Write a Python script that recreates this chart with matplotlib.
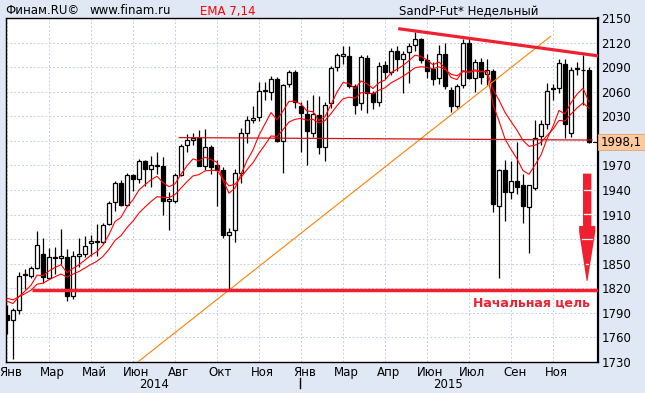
import numpy as np
import pandas as pd
import matplotlib
matplotlib.use("Agg")
import matplotlib.pyplot as plt
import matplotlib.transforms as mtransforms
from matplotlib.patches import Rectangle, Polygon

# ---------------- data (weekly candles, SandP-Fut*) ----------------
opens = [1787, 1781, 1794, 1836, 1835, 1845, 1862, 1833, 1857, 1857,
         1858, 1810, 1859, 1862, 1875, 1877, 1876, 1898, 1925, 1949,
         1922, 1958, 1954, 1976, 1966, 1969, 1969, 1926, 1926, 1958,
         1995, 2001, 2004, 1969, 1993, 1971, 1965, 1885, 1891, 1961,
         2010, 2026, 2029, 2061, 2060, 2076, 2000, 2070, 2084, 2043,
         2033, 2010, 2032, 1993, 2046, 2090, 2104, 2104, 2067, 2046,
         2101, 2058, 2047, 2093, 2084, 2110, 2100, 2108, 2117, 2124,
         2099, 2088, 2077, 2106, 2062, 2042, 2068, 2119, 2077, 2096,
         2082, 2085, 1921, 1964, 1937, 1951, 1946, 1919, 1943, 2006,
         2020, 2063, 2065, 2094, 2010, 2088, 2087, 2086]
highs = [1799, 1796, 1840, 1844, 1847, 1890, 1882, 1869, 1871, 1892,
         1868, 1866, 1882, 1884, 1885, 1898, 1900, 1926, 1951, 1952,
         1961, 1960, 1978, 1977, 1981, 1986, 1980, 1937, 1961, 1996,
         2008, 2010, 2013, 2014, 1995, 1977, 1968, 1893, 1966, 2016,
         2030, 2042, 2072, 2072, 2079, 2078, 2069, 2087, 2087, 2047,
         2050, 2056, 2055, 2048, 2092, 2107, 2116, 2116, 2070, 2105,
         2105, 2061, 2096, 2098, 2113, 2116, 2110, 2120, 2133, 2126,
         2106, 2096, 2117, 2120, 2066, 2069, 2124, 2124, 2100, 2101,
         2100, 2088, 1966, 1977, 1975, 1998, 1960, 1946, 2026, 2025,
         2071, 2070, 2100, 2100, 2090, 2096, 2105, 2090]
lows = [1764, 1734, 1788, 1819, 1833, 1844, 1827, 1831, 1838, 1850,
        1805, 1807, 1846, 1858, 1860, 1860, 1874, 1897, 1914, 1921,
        1921, 1939, 1948, 1945, 1944, 1959, 1910, 1891, 1924, 1957,
        1986, 1995, 1969, 1965, 1959, 1921, 1882, 1819, 1876, 1949,
        1997, 2022, 2024, 2050, 2050, 1998, 1961, 2066, 2040, 1986,
        1971, 2005, 1984, 1975, 2040, 2085, 2094, 2064, 2033, 2038,
        2034, 2039, 2043, 2075, 2080, 2085, 2058, 2071, 2110, 2095,
        2077, 2068, 2070, 2063, 2035, 2040, 2064, 2075, 2060, 2070,
        2068, 1913, 1832, 1902, 1929, 1935, 1900, 1863, 1940, 1995,
        2015, 2050, 2058, 2003, 2005, 2080, 2044, 1997]
closes = [1781, 1793, 1835, 1837, 1845, 1873, 1834, 1858, 1858, 1859,
          1810, 1860, 1862, 1872, 1878, 1878, 1897, 1924, 1949, 1922,
          1958, 1954, 1976, 1966, 1970, 1970, 1926, 1929, 1958, 1994,
          2001, 2003, 1969, 1993, 1968, 1965, 1885, 1889, 1961, 2010,
          2026, 2028, 2061, 2062, 2076, 2000, 2068, 2084, 2048, 2034,
          2012, 2033, 1992, 2044, 2089, 2105, 2106, 2067, 2044, 2102,
          2059, 2047, 2092, 2084, 2110, 2100, 2106, 2116, 2124, 2099,
          2085, 2076, 2106, 2067, 2043, 2067, 2119, 2077, 2096, 2078,
          2086, 1923, 1964, 1937, 1951, 1944, 1920, 1946, 2004, 2020,
          2061, 2064, 2095, 2020, 2087, 2089, 2086, 1998.1]

month_labels = ["Янв", "Мар", "Май", "Июн", "Авг", "Окт", "Ноя",
                "Янв", "Мар", "Апр", "Июн", "Июл", "Сен", "Ноя"]
candle_years = [2014] * 49 + [2015] * 49
ema_seed = 1812
last_price = closes[-1]
ytick_values = list(range(1730, 2151, 30))

# ---------------- figure ----------------
plt.rcParams['font.family'] = ['DejaVu Sans']
FS = 8.5
fig = plt.figure(figsize=(6.45, 3.93), dpi=100, facecolor='#dfe8f4')
L, R, T, B = 5.5, 598, 18, 362
ax = fig.add_axes([L / 645, 1 - B / 393, (R - L) / 645, (B - T) / 393])
ax.set_facecolor('white')

n = len(closes)
x = np.arange(n)
o = np.array(opens, float); h = np.array(highs, float)
l = np.array(lows, float); c = np.array(closes, float)

# wicks
ax.vlines(x, l, h, color='black', lw=0.9, zorder=3)
# bodies
up = c >= o
bottom = np.minimum(o, c)
height = np.maximum(np.abs(c - o), 0.8)
ax.bar(x[up], height[up], bottom=bottom[up], width=0.72, color='white',
       edgecolor='black', lw=0.9, zorder=4)
ax.bar(x[~up], height[~up], bottom=bottom[~up], width=0.72, color='black',
       edgecolor='black', lw=0.9, zorder=4)

# EMA 7 / 14
s = pd.Series(np.concatenate([[ema_seed], c]))
ema7 = s.ewm(span=7, adjust=False).mean().values[1:]
ema14 = s.ewm(span=14, adjust=False).mean().values[1:]
ax.plot(x, ema7, color='#ff0000', lw=0.8, zorder=5)
ax.plot(x, ema14, color='#ff0000', lw=0.8, zorder=5)

RED = '#f02030'
# support line near 2000
ax.plot([28.7, 97.5], [2004, 2001], color='#d41010', lw=0.9, zorder=6)
# target line
ax.plot([4.1, 98.5], [1818, 1818], color=RED, lw=2.5, zorder=6,
        solid_capstyle='butt')
# descending resistance line
ax.plot([65.2, 99.3], [2137, 2103], color=RED, lw=2.3, zorder=6,
        solid_capstyle='butt')
# orange trend line
ax.plot([21.8, 90.6], [1730, 2127.6], color='#ff8000', lw=0.8, zorder=5)

# arrow
arrow = Polygon([(96.0, 1960), (97.4, 1960), (97.4, 1896), (98.05, 1896),
                 (98.05, 1889), (96.75, 1829), (96.6, 1829), (95.35, 1889),
                 (95.35, 1896), (96.0, 1896)], closed=True, fc=RED, ec='none',
                zorder=7)
ax.add_patch(arrow)
for yy, x0, x1 in [(1940, 96.2, 97.3), (1910.5, 96.2, 97.3),
                   (1880, 95.9, 97.5), (1849.6, 96.5, 96.9)]:
    ax.plot([x0, x1], [yy, yy], color='white', lw=0.9, zorder=8)

ax.text(97.2, 1802, "Начальная цель", color=RED, fontsize=9,
        fontweight='bold', ha='right', va='center', zorder=8)

# axes / grid
ax.set_xlim(-0.25, 98.5)
ax.set_ylim(1730, 2150)
ax.yaxis.tick_right()
ax.set_yticks(ytick_values)
ax.set_yticklabels(['' if v == 2000 else str(v) for v in ytick_values],
                   fontsize=FS)
ax.tick_params(axis='y', length=0, pad=2.5)
xt = np.arange(0, n, 7)
ax.set_xticks(xt)
ax.set_xticklabels(month_labels, fontsize=FS)
ax.tick_params(axis='x', length=0, pad=3)
off = mtransforms.ScaledTranslation(3.5 / 100, 0, fig.dpi_scale_trans)
for lab in ax.get_xticklabels():
    lab.set_transform(lab.get_transform() + off)
ax.grid(True, color='#c2d0e6', linestyle=(0, (2, 2)), lw=0.7)
ax.set_axisbelow(True)
for sp in ax.spines.values():
    sp.set_color('black'); sp.set_linewidth(1.0)
ax.spines['right'].set_linewidth(1.6)

# year labels
bt = mtransforms.blended_transform_factory(ax.transData, ax.transAxes)
yrs = np.array(candle_years)
for yv in np.unique(yrs):
    idx = np.where(yrs == yv)[0]
    ax.text((idx[0] + idx[-1]) / 2 + 0.5, -0.064, str(yv), transform=bt,
            ha='center', va='center', fontsize=FS)
sep = np.where(yrs == 2015)[0][0] - 0.2
ax.plot([sep, sep], [-0.046, -0.076], transform=bt, color='black', lw=1,
        clip_on=False)

# last price box
bt2 = mtransforms.blended_transform_factory(fig.transFigure, ax.transData)
fig.patches.append(Rectangle((R / 645, last_price - 9.8), 1 - R / 645, 19.6,
                             transform=bt2, fc='#fdc99c', ec='#e8a070',
                             lw=0.6, zorder=1))
fig.text(600.5 / 645, last_price, "1998,1", transform=bt2, ha='left',
         va='center', fontsize=FS)
ax.plot([97.6, 98.5], [last_price, last_price], color='black', lw=0.8,
        zorder=8, clip_on=False)

# header
yh = 1 - 11 / 393
fig.text(5 / 645, yh, "Финам.RU©", fontsize=FS, va='center', ha='left')
fig.text(90 / 645, yh, "www.finam.ru", fontsize=FS, va='center', ha='left')
fig.text(200 / 645, yh, "EMA 7,14", fontsize=FS, va='center', ha='left',
         color='#ff0000')
fig.text(469 / 645, yh, "SandP-Fut* Недельный", fontsize=FS, va='center',
         ha='center')

fig.savefig("out.png", dpi=100, facecolor=fig.get_facecolor())
